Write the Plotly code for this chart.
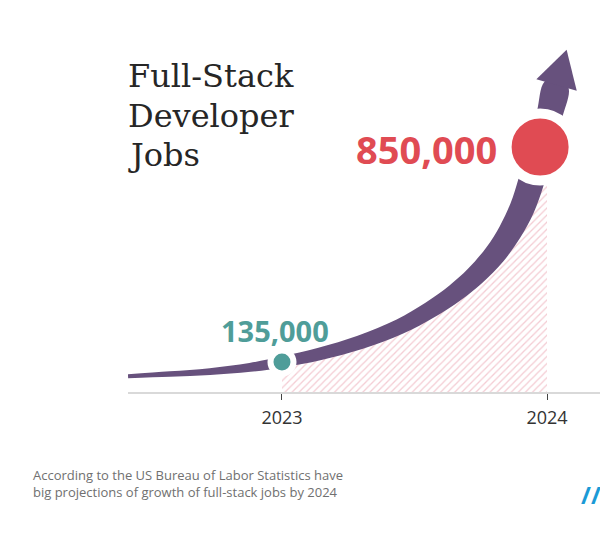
import numpy as np
import plotly.graph_objects as go

# ---------------- data ----------------
# centre line of the growth arrow: year -> jobs (last point = arrow tip)
curve_year = [2022.419, 2022.577, 2022.728, 2022.879, 2023.000, 2023.143, 2023.294,
              2023.445, 2023.558, 2023.653, 2023.728, 2023.804, 2023.860, 2023.906,
              2023.940, 2023.974, 2024.009, 2024.036, 2024.074]
curve_jobs = [88000, 95000, 103000, 117000, 135000, 162000, 200000,
              253000, 308000, 365000, 421000, 494000, 567000, 647000,
              734000, 850000, 956000, 1056000, 1173000]

# hatched area under the curve between the two years
hatch_year = [2023.000, 2023.143, 2023.294, 2023.445, 2023.558, 2023.653, 2023.728,
              2023.804, 2023.860, 2023.906, 2023.940, 2023.974, 2024.000]
hatch_jobs = [135000, 162000, 200000, 253000, 308000, 365000, 421000,
              494000, 567000, 647000, 734000, 850000, 928000]

# highlighted points
point_year = [2023.0, 2023.974]
point_jobs = [135000, 850000]
point_labels = ["135,000", "850,000"]

tick_vals = [2023, 2024]
tick_text = ["2023", "2024"]

title_lines = ["Full-Stack", "Developer", "Jobs"]
footer_text = ("According to the US Bureau of Labor Statistics have<br>"
               "big projections of growth of full-stack jobs by 2024")

# ---------------- layout / style ----------------
W, H = 600, 533
ML, MR, MT, MB = 128, 0, 40, 141
PW, PH = W - ML - MR, H - MT - MB
X_RANGE = [2022.4189, 2024.2]
Y_RANGE = [35230, 1205820]

PURPLE = "#67517d"
RED = "#e04b53"
TEAL = "#4f9d99"
PINK = "#f4ccd3"

# stroke thickness (px) along the curve, one per centre-line point except the tip
band_width_px = [4, 5.5, 7, 9, 11, 12.5, 14, 15.5, 17, 18.5, 20, 22, 23.5, 25, 26, 27, 26, 25]
head_half_px = 21
cap_px = 8  # rounded end of the shaft, tucked inside the arrow head


def to_px(x):
    return ML + (x - X_RANGE[0]) / (X_RANGE[1] - X_RANGE[0]) * PW


def to_py(y):
    return MT + (Y_RANGE[1] - y) / (Y_RANGE[1] - Y_RANGE[0]) * PH


def from_px(px):
    return X_RANGE[0] + (px - ML) / PW * (X_RANGE[1] - X_RANGE[0])


def from_py(py):
    return Y_RANGE[1] - (py - MT) / PH * (Y_RANGE[1] - Y_RANGE[0])


pts = np.array([[to_px(x), to_py(y)] for x, y in zip(curve_year, curve_jobs)])
band = pts[:-1]
tip = pts[-1]
upper, lower = [], []
for i, p in enumerate(band):
    prev = pts[max(i - 1, 0)]
    nxt = pts[i + 1]
    t = nxt - prev
    n = np.array([-t[1], t[0]]) / np.hypot(*t)
    upper.append(p + n * band_width_px[i] / 2)
    lower.append(p - n * band_width_px[i] / 2)

B = band[-1]
d = tip - B
u = d / np.hypot(*d)
nrm = np.array([-u[1], u[0]])

poly = np.vstack([np.array(upper), [B + u * cap_px], np.array(lower)[::-1]])
band_x = [from_px(p[0]) for p in poly]
band_y = [from_py(p[1]) for p in poly]

head = [B + nrm * head_half_px, tip, B - nrm * head_half_px]
head_x = [from_px(p[0]) for p in head]
head_y = [from_py(p[1]) for p in head]

fig = go.Figure()

fig.add_trace(go.Scatter(
    x=hatch_year, y=hatch_jobs, mode="lines", fill="tozeroy",
    line=dict(width=0, shape="spline"), fillcolor="white",
    fillpattern=dict(shape="/", size=5, solidity=0.25, fgcolor=PINK,
                     bgcolor="white", fillmode="replace"),
    hoverinfo="skip"))

fig.add_trace(go.Scatter(
    x=band_x, y=band_y, mode="lines", fill="toself", fillcolor=PURPLE,
    line=dict(width=0, shape="spline", smoothing=1), hoverinfo="skip"))

fig.add_trace(go.Scatter(
    x=head_x, y=head_y, mode="lines", fill="toself", fillcolor=PURPLE,
    line=dict(width=0), hoverinfo="skip"))

fig.add_trace(go.Scatter(
    x=point_year, y=point_jobs, mode="markers", opacity=1,
    marker=dict(size=[23, 67], color=[TEAL, RED], opacity=1,
                line=dict(color="white", width=[6, 10])),
    hoverinfo="skip", cliponaxis=False))

annotations = []
# value labels
annotations.append(dict(x=point_year[0], y=point_jobs[0], xref="x", yref="y",
                        text="<b>%s</b>" % point_labels[0], showarrow=False,
                        xanchor="center", yanchor="middle", xshift=-7, yshift=32,
                        font=dict(family="Open Sans", size=29, color=TEAL)))
annotations.append(dict(x=point_year[1], y=point_jobs[1], xref="x", yref="y",
                        text="<b>%s</b>" % point_labels[1], showarrow=False,
                        xanchor="right", yanchor="middle", xshift=-41, yshift=-2,
                        font=dict(family="Open Sans", size=38, color=RED)))
# title lines
for line, cy in zip(title_lines, [76, 116, 155]):
    annotations.append(dict(x=(126 - ML) / PW, y=(MT + PH - cy) / PH, xref="paper", yref="paper",
                            text=line, showarrow=False, xanchor="left", yanchor="middle",
                            font=dict(family="DejaVu Serif", size=32, color="#262626")))
# footer
annotations.append(dict(x=(31 - ML) / PW, y=(MT + PH - 483) / PH, xref="paper", yref="paper",
                        text=footer_text, showarrow=False, xanchor="left", yanchor="middle",
                        align="left",
                        font=dict(family="Open Sans", size=13, color="#707070")))
# logo
annotations.append(dict(x=(591 - ML) / PW, y=(MT + PH - 494) / PH, xref="paper", yref="paper",
                        text="<b>//</b>", showarrow=False, xanchor="center", yanchor="middle",
                        font=dict(family="Open Sans", size=24, color="#1b9ad6")))

fig.update_layout(
    width=W, height=H, margin=dict(l=ML, r=MR, t=MT, b=MB),
    paper_bgcolor="white", plot_bgcolor="white", showlegend=False,
    hovermode=False, annotations=annotations,
    xaxis=dict(range=X_RANGE, tickvals=tick_vals, ticktext=tick_text,
               ticks="outside", ticklen=6, tickwidth=1, tickcolor="#444",
               ticklabelstandoff=3,
               showline=True, linecolor="#d9d9d9", linewidth=1.5,
               showgrid=False, zeroline=False, fixedrange=True,
               tickfont=dict(family="Open Sans", size=18, color="#333")),
    yaxis=dict(range=Y_RANGE, visible=False, showgrid=False, zeroline=False,
               fixedrange=True),
)

fig.write_html("out.html", config={"displayModeBar": False})
